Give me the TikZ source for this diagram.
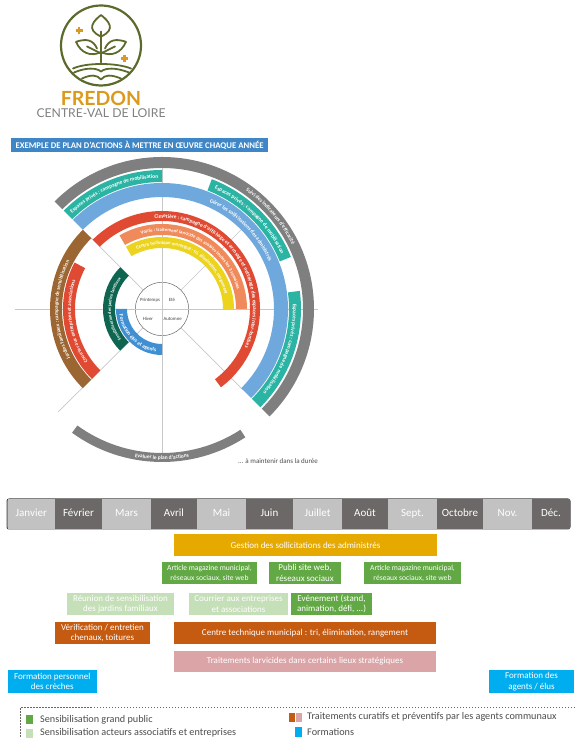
\documentclass[tikz,border=0pt]{standalone}
\usepackage{fontspec}
\setmainfont{Carlito}
\newfontfamily\logofont{Lato}
\usetikzlibrary{decorations.text}

\definecolor{ringgray}{HTML}{7F7F7F}
\definecolor{ringteal}{HTML}{2BB3A3}
\definecolor{ringblue}{HTML}{6FA8DC}
\definecolor{ringred}{HTML}{E04A32}
\definecolor{ringorange}{HTML}{F08A5A}
\definecolor{ringyellow}{HTML}{ECD41E}
\definecolor{ringbrown}{HTML}{9C6633}
\definecolor{ringgreen}{HTML}{0F6650}
\definecolor{ringazure}{HTML}{3F8FD2}
\definecolor{logogreen}{HTML}{5C6B2C}
\definecolor{logogold}{HTML}{DB9A1E}
\definecolor{monthpale}{HTML}{C2C2C2}
\definecolor{monthdeep}{HTML}{6C6868}
\definecolor{actionyellow}{HTML}{E5A900}
\definecolor{actiongreen}{HTML}{62A844}
\definecolor{actionpale}{HTML}{C5DFB8}
\definecolor{actionrust}{HTML}{C55A11}
\definecolor{actionpink}{HTML}{DBA5A8}
\definecolor{actionsky}{HTML}{00AEEF}
\definecolor{titleblue}{HTML}{3F86C6}

\newcommand{\ringband}[5]{\fill[#1] (#4:#3) arc (#4:#5:#3) -- (#5:#2) arc (#5:#4:#2) -- cycle;}
\newcommand{\ringlabel}[5][5.4]{\path[decorate, decoration={text along path, text={|\fontsize{#1}{6}\selectfont\bfseries\color{white}|#5}, text align=center}] (#3:#2) arc (#3:#4:#2);}

\tikzset{
  axisline/.style={draw=black!22, line width=0.7pt},
  monthcell/.style={minimum height=30pt, inner sep=0pt, text=white, text height=7.5pt, text depth=2pt, font=\fontsize{11}{12}\selectfont},
  monthpalecell/.style={monthcell, fill=monthpale},
  monthdeepcell/.style={monthcell, fill=monthdeep},
  actionbox/.style={minimum height=22pt, inner sep=0pt, align=center, text=white, font=\fontsize{9}{10.5}\selectfont},
  smallaction/.style={actionbox, font=\fontsize{7.6}{10}\selectfont},
  legendtext/.style={anchor=west, inner sep=0pt, text=black!70, font=\fontsize{10.2}{11}\selectfont},
  swatch/.style={minimum width=7pt, minimum height=9pt, inner sep=0pt},
  seasontext/.style={inner sep=0pt, font=\fontsize{4.8}{5}\selectfont, text=black!75},
}

\begin{document}
\begin{tikzpicture}[x=1pt, y=1pt]
  \useasboundingbox (0,0) rectangle (575,738);

  % Logo
  \begin{scope}[shift={(101,692.5)}, draw=logogreen, line width=1.8pt, line cap=round, line join=round]
    \draw[line width=2.2pt] (0,0) circle (40);
    \draw (0,9) .. controls (-16,16) and (-7,25) .. (0,30.5) .. controls (7,25) and (16,16) .. (0,9);
    \draw (0,14) -- (0,-17);
    \draw (-25,3.7) .. controls (-15,7) and (-8,6) .. (-4,-3) (-25,3.7) .. controls (-20,-8) and (-10,-11) .. (-1,-7);
    \draw (25,3.7) .. controls (15,7) and (8,6) .. (4,-3) (25,3.7) .. controls (20,-8) and (10,-11) .. (1,-7);
    \draw (-14,-1) -- (0,-8) (14,-1) -- (0,-8);
    \draw (-28,-23) .. controls (-15,-17) and (15,-17) .. (30,-23);
    \draw (-27,-27) .. controls (-15,-22) and (-5,-22) .. (0,-26) .. controls (5,-22) and (15,-22) .. (28,-27);
    \draw (-19,-33) .. controls (-10,-29) and (-4,-29) .. (0,-34) .. controls (4,-29) and (10,-29) .. (20,-33);
    \draw[draw=logogold, line width=2.6pt, line cap=butt] (-25.5,14.7) -- (-18.5,14.7) (-22,11.2) -- (-22,18.2);
    \draw[draw=logogold, line width=2.6pt, line cap=butt] (19.8,-13.3) -- (26.8,-13.3) (23.3,-16.8) -- (23.3,-9.8);
  \end{scope}
  \node[inner sep=0pt, text=logogold, font=\logofont\bfseries\fontsize{19.5}{20}\selectfont] (fredon) at (101,639.5) {FREDON};
  \node[inner sep=0pt, text=black!50, font=\logofont\fontsize{12.2}{13}\selectfont] (region) at (101,625.3) {CENTRE-VAL DE LOIRE};

  % Title
  \node[fill=titleblue, minimum width=257pt, minimum height=14pt, inner sep=0pt, text=white, font=\fontsize{8.7}{9}\selectfont\bfseries] (plantitle) at (139.5,593) {EXEMPLE DE PLAN D'ACTIONS À METTRE EN ŒUVRE CHAQUE ANNÉE};

  % Axes
  \node[circle, draw=black!60, line width=0.5pt, minimum size=53.4pt, inner sep=0pt] (hub) at (162,429) {};
  \coordinate (westend) at (15,429);
  \coordinate (eastend) at (318,429);
  \coordinate (northend) at (162,581);
  \coordinate (southend) at (162,283);
  \coordinate (nwend) at (90,501);
  \coordinate (neend) at (242,509);
  \coordinate (swend) at (58,326);
  \coordinate (seend) at (243,348);
  \draw[axisline] (westend) -- (eastend);
  \draw[axisline] (northend) -- (southend);
  \draw[axisline] (hub.135) -- (nwend);
  \draw[axisline] (hub.45) -- (neend);
  \draw[axisline] (hub.225) -- (swend);
  \draw[axisline] (hub.315) -- (seend);

  \node[seasontext] (spring) at (150,438) {Printemps};
  \node[seasontext] (summer) at (172,438) {Eté};
  \node[seasontext] (winter) at (148,419) {Hiver};
  \node[seasontext] (autumn) at (172.6,419) {Automne};

  % Rings
  \begin{scope}[shift={(hub.center)}]
    \ringband{ringgray}{141}{152}{135}{-45}
    \ringband{ringteal}{127}{139}{135}{90}
    \ringband{ringteal}{127}{139}{69}{22}
    \ringband{ringteal}{127}{139}{7.5}{-45}
    \ringband{ringblue}{112}{126}{135}{-45}
    \ringband{ringred}{88}{98}{135}{-53}
    \ringband{ringorange}{74}{85}{120}{0}
    \ringband{ringyellow}{61}{72}{120}{0}
    \ringband{ringbrown}{100}{112}{135}{225}
    \ringband{ringred}{87}{99}{152}{225}
    \ringband{ringgreen}{47}{59}{135}{225}
    \ringband{ringazure}{35}{46}{180}{270}
    \ringband{ringgray}{144}{153}{234}{303}

    \ringlabel{145}{60}{21}{Suivi des indicateurs d'efficacité}
    \ringlabel{131}{135}{90}{Espaces privés : campagne de mobilisation}
    \ringlabel{131}{69}{22}{Espaces privés : campagne de mobilisation}
    \ringlabel{131}{7.5}{-45}{Espaces privés : campagne de mobilisation}
    \ringlabel{117}{70}{20}{Gérer les sollicitations des administrés}
    \ringlabel{91}{105}{-35}{Cimetière : campagne d'affichage et arrosage et nettoyage des espaces inter-tombes}
    \ringlabel[4.8]{77.5}{118}{2}{Voirie : traitement larvicide des avaloirs toutes les 3 semaines}
    \ringlabel[4.8]{64.5}{120}{6}{Centre technique municipal : tri, élimination, rangement}
    \ringlabel[5.2]{104}{215}{146}{Jardins familiaux : campagne de sensibilisation}
    \ringlabel[5.2]{91}{225}{152}{Courrier aux entreprises et associations}
    \ringlabel[4.4]{51}{225}{135}{Sensibilisation des jardins familiaux}
    \ringlabel{43}{180}{270}{Formation élus et agents}
    \ringlabel{150.5}{250}{290}{Evaluer le plan d'actions}
  \end{scope}
  \node[inner sep=0pt, text=black!70, font=\fontsize{7}{8}\selectfont] (durable) at (278,277) {... à maintenir dans la durée};

  % Months
  \draw[draw=black!75, line width=1pt, rounded corners=2pt] (7,209) rectangle (570,239);
  \node[monthpalecell, minimum width=47.5pt] (janvier) at (31.25,224) {Janvier};
  \node[monthdeepcell, minimum width=47pt] (fevrier) at (78.5,224) {Février};
  \node[monthpalecell, minimum width=49pt] (mars) at (126.5,224) {Mars};
  \node[monthdeepcell, minimum width=46pt] (avril) at (174,224) {Avril};
  \node[monthpalecell, minimum width=49pt] (mai) at (221.5,224) {Mai};
  \node[monthdeepcell, minimum width=47pt] (juin) at (269.5,224) {Juin};
  \node[monthpalecell, minimum width=49pt] (juillet) at (317.5,224) {Juillet};
  \node[monthdeepcell, minimum width=46pt] (aout) at (365,224) {Août};
  \node[monthpalecell, minimum width=49pt] (sept) at (412.5,224) {Sept.};
  \node[monthdeepcell, minimum width=46pt] (octobre) at (460,224) {Octobre};
  \node[monthpalecell, minimum width=49pt] (nov) at (507.5,224) {Nov.};
  \node[monthdeepcell, minimum width=38pt] (dec) at (551,224) {Déc.};

  % Actions
  \node[actionbox, fill=actionyellow, minimum width=262.5pt] (gestion) at (305.5,193) {Gestion des sollicitations des administrés};
  \node[smallaction, fill=actiongreen, minimum width=95pt] (articlea) at (209.5,165) {Article magazine municipal,\\réseaux sociaux, site web};
  \node[actionbox, fill=actiongreen, minimum width=72pt] (publi) at (305,165) {Publi site web,\\réseaux sociaux};
  \node[smallaction, fill=actiongreen, minimum width=97pt] (articleb) at (412.5,165) {Article magazine municipal,\\réseaux sociaux, site web};
  \node[actionbox, fill=actionpale, minimum width=107pt] (reunion) at (120.5,134) {Réunion de sensibilisation\\des jardins familiaux};
  \node[actionbox, fill=actionpale, minimum width=99pt] (courrier) at (238.5,134) {Courrier aux entreprises\\et associations};
  \node[actionbox, fill=actiongreen, minimum width=81pt] (evenement) at (331.5,134) {Evénement (stand,\\animation, défi, ...)};
  \node[actionbox, fill=actionrust, minimum width=95pt] (verification) at (102.5,105) {Vérification / entretien\\chenaux, toitures};
  \node[actionbox, fill=actionrust, minimum width=262pt] (centre) at (305,105) {Centre technique municipal : tri, élimination, rangement};
  \node[actionbox, fill=actionpink, minimum width=262pt, minimum height=21pt] (traitements) at (305,76.5) {Traitements larvicides dans certains lieux stratégiques};
  \node[actionbox, fill=actionsky, minimum width=89.5pt, minimum height=23pt] (formcreches) at (52.25,56.5) {Formation personnel\\des crèches};
  \node[actionbox, fill=actionsky, minimum width=85pt, minimum height=23pt] (formagents) at (531.5,56.5) {Formation des\\agents / élus};

  % Legend
  \draw[draw=black!60, line width=1pt, dash pattern=on 1.5pt off 1.5pt] (575,30) -- (20,30) -- (20,0);
  \node[swatch, fill=actiongreen] (swgreen) at (29.5,18.5) {};
  \node[swatch, fill=actionpale] (swpale) at (29.5,4.5) {};
  \node[swatch, fill=actionrust, minimum width=6pt] (swrust) at (292,20.5) {};
  \node[swatch, fill=actionpink, minimum width=6pt] (swpink) at (299,20.5) {};
  \node[swatch, fill=actionsky, minimum height=10pt] (swsky) at (298.5,6) {};
  \node[legendtext] (lggreen) at (40,18) {Sensibilisation grand public};
  \node[legendtext] (lgpale) at (40,5) {Sensibilisation acteurs associatifs et entreprises};
  \node[legendtext] (lgrust) at (307,21) {Traitements curatifs et préventifs par les agents communaux};
  \node[legendtext] (lgsky) at (307,6) {Formations};
\end{tikzpicture}
\end{document}
